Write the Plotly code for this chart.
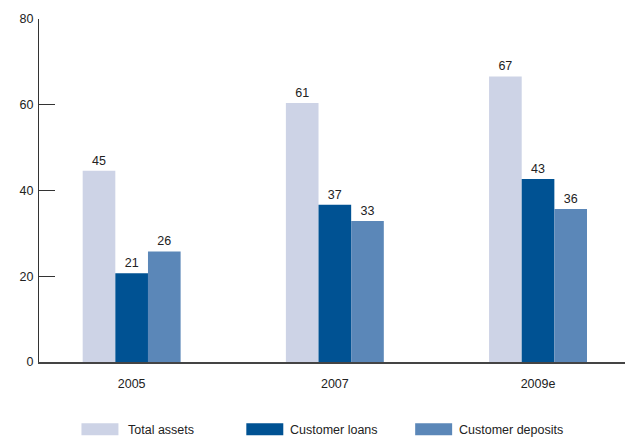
import plotly.graph_objects as go

categories = ["2005", "2007", "2009e"]
series_names = ["Total assets", "Customer loans", "Customer deposits"]
total_assets = [44.6, 60.4, 66.6]
customer_loans = [20.7, 36.7, 42.7]
customer_deposits = [25.8, 32.9, 35.7]
total_assets_labels = ["45", "61", "67"]
customer_loans_labels = ["21", "37", "43"]
customer_deposits_labels = ["26", "33", "36"]
y_ticks = [0, 20, 40, 60, 80]

colors = ["#CDD3E6", "#005293", "#5B87B8"]
FONT = "Liberation Sans, Arial, sans-serif"
FS = 12.5

W, H = 625, 437
L, R, T, B = 38.5, 0, 19, 75.3

fig = go.Figure()
for name, vals, labels, col in zip(
    series_names,
    [total_assets, customer_loans, customer_deposits],
    [total_assets_labels, customer_loans_labels, customer_deposits_labels],
    colors,
):
    fig.add_trace(go.Bar(
        x=categories, y=vals, name=name, marker=dict(color=col, line=dict(width=0)),
        text=labels, textposition="outside", cliponaxis=False,
        textfont=dict(family=FONT, size=FS, color="#222222"),
        showlegend=False, hoverinfo="skip",
    ))

fig.update_layout(
    width=W, height=H,
    margin=dict(l=L, r=R, t=T, b=B, pad=0, autoexpand=False),
    paper_bgcolor="white", plot_bgcolor="white",
    barmode="group", bargap=0.518, bargroupgap=0,
    font=dict(family=FONT, size=FS, color="#222222"),
)
fig.update_xaxes(
    type="category", range=[-0.456, 2.428], automargin=False,
    showline=True, linecolor="#444444", linewidth=1.6,
    ticks="", showgrid=False, zeroline=False,
    ticklabelstandoff=9,
    tickfont=dict(family=FONT, size=FS, color="#222222"),
)
fig.update_yaxes(
    range=[0, 80], tickvals=y_ticks, automargin=False,
    showline=True, linecolor="#333333", linewidth=1.2,
    ticks="inside", ticklen=16, tickwidth=1.2, tickcolor="#333333",
    showgrid=False, zeroline=False, ticklabelstandoff=2,
    tickfont=dict(family=FONT, size=FS, color="#222222"),
)

# Legend (custom, paper coordinates)
plot_w = W - L - R
plot_h = H - T - B
def px_x(x):
    return (x - L) / plot_w
def px_y(y):
    return (H - B - y) / plot_h

legend_items = [(81, 126), (246, 288), (415, 457)]
for (sx, tx), name, col in zip(legend_items, series_names, colors):
    fig.add_shape(type="rect", xref="paper", yref="paper",
                  x0=px_x(sx), x1=px_x(sx + 37), y0=px_y(435), y1=px_y(423),
                  fillcolor=col, line=dict(width=0))
    fig.add_annotation(xref="paper", yref="paper", x=px_x(tx), y=px_y(430),
                       text=name, showarrow=False, xanchor="left", yanchor="middle",
                       font=dict(family=FONT, size=FS, color="#222222"))

fig.write_html(
    "out.html",
    config={"displayModeBar": False},
    post_script="document.body.style.margin='0';document.body.style.overflow='hidden';",
)
